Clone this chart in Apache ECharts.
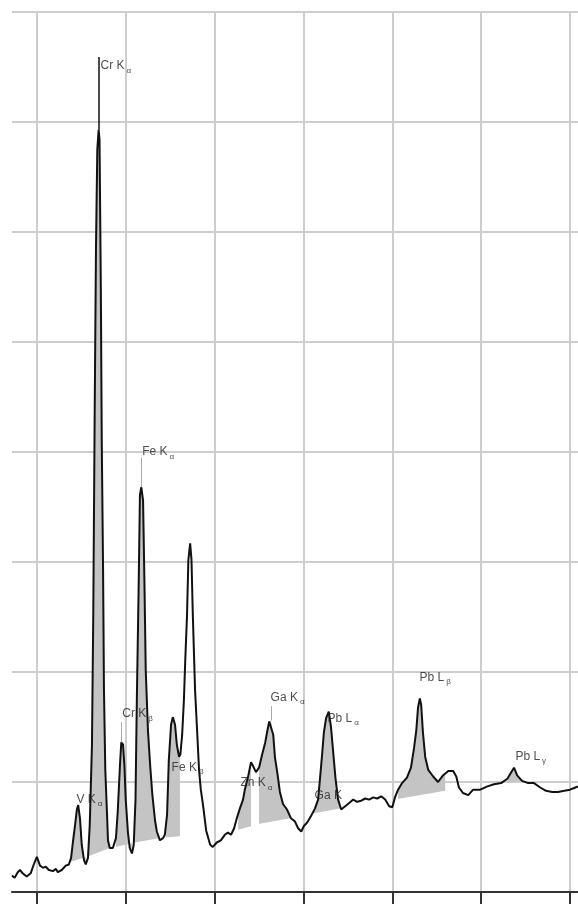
<!DOCTYPE html>
<html>
<head>
<meta charset="utf-8">
<script src="https://cdn.jsdelivr.net/npm/echarts@6/dist/echarts.min.js"></script>
<style>
  html, body { margin: 0; padding: 0; background: #fff; }
  #chart { width: 578px; height: 915px; }
</style>
</head>
<body>
<div id="chart"></div>
<script>
// spectrum (keV, counts)
const energy = [3.44, 3.50, 3.57, 3.62, 3.68, 3.77, 3.86, 3.93, 4.00, 4.07, 4.14, 4.20, 4.27, 4.36, 4.43, 4.47, 4.56, 4.65, 4.72, 4.77,
  4.81, 4.86, 4.90, 4.93, 4.97, 5.01, 5.06, 5.10, 5.15, 5.19, 5.24, 5.27, 5.30, 5.33, 5.36, 5.39, 5.41, 5.44, 5.46, 5.49,
  5.51, 5.54, 5.58, 5.60, 5.64, 5.71, 5.78, 5.82, 5.87, 5.90, 5.94, 5.97, 6.00, 6.05, 6.09, 6.14, 6.18, 6.22, 6.25, 6.29,
  6.32, 6.35, 6.39, 6.42, 6.45, 6.50, 6.55, 6.60, 6.66, 6.70, 6.77, 6.84, 6.88, 6.93, 6.97, 7.02, 7.06, 7.11, 7.15, 7.20,
  7.23, 7.27, 7.31, 7.34, 7.38, 7.41, 7.45, 7.48, 7.51, 7.56, 7.60, 7.65, 7.69, 7.74, 7.81, 7.90, 7.96, 8.05, 8.14, 8.23,
  8.30, 8.37, 8.44, 8.50, 8.57, 8.64, 8.68, 8.75, 8.82, 8.86, 8.93, 9.00, 9.07, 9.14, 9.18, 9.23, 9.27, 9.32, 9.36, 9.41,
  9.47, 9.54, 9.63, 9.72, 9.81, 9.88, 9.95, 10.01, 10.08, 10.17, 10.26, 10.33, 10.37, 10.42, 10.46, 10.51, 10.57, 10.62, 10.67, 10.72,
  10.78, 10.85, 10.94, 11.03, 11.12, 11.21, 11.30, 11.39, 11.48, 11.57, 11.66, 11.75, 11.84, 11.93, 12.00, 12.06, 12.13, 12.22, 12.33, 12.42,
  12.49, 12.54, 12.58, 12.62, 12.65, 12.69, 12.74, 12.81, 12.92, 13.03, 13.14, 13.26, 13.37, 13.44, 13.50, 13.59, 13.71, 13.82, 13.98, 14.14,
  14.29, 14.45, 14.59, 14.68, 14.74, 14.81, 14.92, 15.06, 15.19, 15.33, 15.46, 15.60, 15.73, 15.87, 16.00, 16.12, 16.18];
const counts = [150, 130, 180, 200, 170, 140, 170, 250, 320, 240, 220, 230, 200, 190, 210, 180, 200, 240, 250, 310,
  450, 610, 750, 790, 670, 430, 290, 250, 310, 610, 1340, 2560, 4290, 5840, 6750, 6930, 6840, 5470, 4110, 2930,
  1840, 1110, 700, 470, 400, 400, 490, 730, 1150, 1360, 1340, 1150, 840, 540, 400, 350, 430, 840, 1750, 2750,
  3610, 3680, 3560, 2840, 2020, 1470, 1150, 880, 650, 550, 470, 490, 520, 700, 1200, 1520, 1590, 1520, 1340, 1230,
  1250, 1430, 1750, 2110, 2520, 3020, 3170, 3020, 2520, 1840, 1520, 1110, 930, 790, 560, 430, 410, 450, 470, 520,
  540, 520, 580, 670, 760, 840, 930, 1040, 1180, 1150, 1090, 1130, 1250, 1360, 1450, 1550, 1560, 1430, 1220, 1090,
  910, 800, 750, 670, 640, 580, 550, 600, 630, 690, 760, 840, 1020, 1250, 1450, 1580, 1640, 1500, 1270, 1040,
  840, 750, 780, 810, 840, 820, 830, 850, 840, 860, 850, 870, 840, 780, 770, 860, 930, 990, 1040, 1130,
  1310, 1470, 1680, 1760, 1700, 1450, 1230, 1110, 1050, 1000, 1060, 1100, 1100, 1050, 950, 900, 880, 930, 930, 960,
  980, 990, 1030, 1090, 1130, 1060, 1010, 990, 990, 950, 920, 910, 910, 920, 930, 950, 960];

// fitted background under the peaks
const bgEnergy = [4.74, 5.19, 5.64, 6.21, 6.77, 7.33, 8.57, 9.02, 9.70, 10.15, 10.82, 12.18, 13.19, 14.88];
const bgCounts = [270, 330, 400, 450, 490, 510, 570, 620, 670, 710, 760, 850, 920, 1010];

// shaded peak windows [from, to] keV
const fillWindows = [[4.77, 5.10], [5.15, 5.66], [5.78, 6.14], [6.18, 6.77], [6.90, 7.22],
  [8.53, 8.82], [9.00, 9.70], [10.17, 10.85], [12.13, 13.19], [14.59, 14.90]];

// peak labels
const labelText = ['Cr K', 'Fe K', 'Cr K', 'V K', 'Fe K', 'Zn K', 'Ga K', 'Pb L', 'Ga K', 'Pb L', 'Pb L'];
const labelSub = ['α', 'α', 'β', 'α', 'β', 'α', 'α', 'α', '', 'β', 'γ'];
const labelEnergy = [5.42, 6.36, 5.91, 4.88, 7.02, 8.57, 9.25, 10.53, 10.24, 12.60, 14.76];
const labelCounts = [7510, 4000, 1620, 840, 1130, 990, 1770, 1580, 880, 1950, 1230];

// leader lines from peak top to label
const leaderEnergy = [5.39, 6.34, 5.91, 9.27];
const leaderFrom = [6930, 3680, 1360, 1560];
const leaderTo = [7590, 3950, 1545, 1690];

const xTicks = [4, 6, 8, 10, 12, 14, 16];

function interp(xs, ys, x) {
    if (x <= xs[0]) return ys[0];
    for (let i = 1; i < xs.length; i++) {
        if (x <= xs[i]) {
            const t = (x - xs[i - 1]) / (xs[i] - xs[i - 1]);
            return ys[i - 1] + t * (ys[i] - ys[i - 1]);
        }
    }
    return ys[ys.length - 1];
}

const chart = echarts.init(document.getElementById('chart'));

const option = {
    animation: false,
    backgroundColor: '#fff',
    grid: { left: 12, right: 0, top: 12, bottom: 23 },
    xAxis: {
        type: 'value',
        min: 3.44,
        max: 16.18,
        axisLine: { show: true, onZero: false, lineStyle: { color: '#333', width: 2 } },
        axisTick: { show: true, length: 12, customValues: xTicks, lineStyle: { color: '#333', width: 2 } },
        axisLabel: { show: false },
        splitLine: { show: true, lineStyle: { color: '#cdcdcd', width: 2 } }
    },
    yAxis: {
        type: 'value',
        min: 0,
        max: 8000,
        interval: 1000,
        axisLine: { show: false },
        axisTick: { show: false },
        axisLabel: { show: false },
        splitLine: { show: true, lineStyle: { color: '#cdcdcd', width: 2 } }
    },
    series: [
        {
            // grey peak areas between background and spectrum
            type: 'custom',
            z: 1,
            data: fillWindows,
            encode: { x: [0, 1] },
            renderItem: function (params, api) {
                const w = fillWindows[params.dataIndex];
                const a = w[0], b = w[1];
                const pts = [api.coord([a, interp(energy, counts, a)])];
                energy.forEach(function (e, i) {
                    if (e > a && e < b) pts.push(api.coord([e, counts[i]]));
                });
                pts.push(api.coord([b, interp(energy, counts, b)]));
                pts.push(api.coord([b, interp(bgEnergy, bgCounts, b)]));
                for (let i = bgEnergy.length - 1; i >= 0; i--) {
                    if (bgEnergy[i] > a && bgEnergy[i] < b) pts.push(api.coord([bgEnergy[i], bgCounts[i]]));
                }
                pts.push(api.coord([a, interp(bgEnergy, bgCounts, a)]));
                return { type: 'polygon', shape: { points: pts }, style: { fill: '#c4c4c4' } };
            }
        },
        {
            type: 'line',
            z: 2,
            data: energy.map(function (e, i) { return [e, counts[i]]; }),
            symbol: 'none',
            lineStyle: { color: '#111', width: 2 }
        },
        {
            type: 'lines',
            coordinateSystem: 'cartesian2d',
            z: 3,
            data: leaderEnergy.map(function (e, i) {
                return {
                    coords: [[e, leaderFrom[i]], [e, leaderTo[i]]],
                    lineStyle: { color: i === 0 ? '#111' : '#aaa', width: i === 0 ? 1.5 : 1, opacity: 1 }
                };
            })
        },
        {
            type: 'scatter',
            z: 4,
            symbolSize: 1,
            itemStyle: { color: 'rgba(0,0,0,0)' },
            data: labelEnergy.map(function (e, i) { return [e, labelCounts[i]]; }),
            label: {
                show: true,
                position: 'right',
                distance: 0,
                formatter: function (p) {
                    const i = p.dataIndex;
                    return '{t|' + labelText[i] + '}' + (labelSub[i] ? '{s|' + labelSub[i] + '}' : '');
                },
                rich: {
                    t: { fontFamily: 'Liberation Sans', fontSize: 12, color: '#222' },
                    s: { fontFamily: 'Liberation Sans', fontSize: 8, color: '#222', padding: [9, 0, 0, 2] }
                }
            }
        }
    ]
};

chart.setOption(option);
</script>
</body>
</html>
